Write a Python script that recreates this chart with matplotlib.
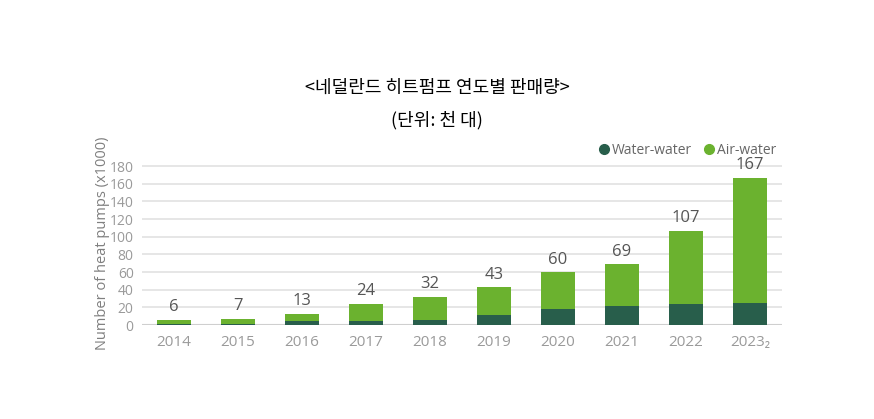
import matplotlib.pyplot as plt
from matplotlib.lines import Line2D

plt.rcParams['font.family'] = ['Open Sans', 'DejaVu Sans']

# Data
years = ["2014", "2015", "2016", "2017", "2018", "2019", "2020", "2021", "2022", "2023₂"]
water_water = [1, 1, 4, 4, 6, 11, 18, 21, 24, 25]
air_water = [5, 6, 9, 20, 26, 32, 42, 48, 83, 142]
totals = [6, 7, 13, 24, 32, 43, 60, 69, 107, 167]
y_ticks = [0, 20, 40, 60, 80, 100, 120, 140, 160, 180]

dark = "#285e4b"
light = "#6bb22f"
grey = "#9a9a9a"

fig = plt.figure(figsize=(8.74, 4.19), dpi=100)
ax = fig.add_axes([0.1625, 0.2243, 0.7322, 0.39])

x = list(range(len(years)))
ax.bar(x, water_water, width=0.52, color=dark, zorder=3)
ax.bar(x, air_water, width=0.52, bottom=water_water, color=light, zorder=3)

for xi, t in zip(x, totals):
    ax.text(xi, t + 5, str(t), ha="center", va="bottom", fontsize=12, color="#555555")

ax.set_xlim(-0.5, len(years) - 0.5)
ax.set_ylim(0, 185)
ax.set_yticks(y_ticks)
ax.set_xticks(x)
ax.set_xticklabels(years)
ax.tick_params(axis="x", length=0, pad=7, labelsize=11, colors=grey)
ax.tick_params(axis="y", length=0, pad=6, labelsize=10, colors=grey)
ax.grid(axis="y", color="#e2e2e2", linewidth=1.2, zorder=0)
ax.axhline(0, color="#cfcfcf", linewidth=1.5, zorder=2)
for s in ax.spines.values():
    s.set_visible(False)

ax.set_ylabel("Number of heat pumps (x1000)", fontsize=10.5, color="#7f7f7f", labelpad=0)

handles = [
    Line2D([], [], marker="o", linestyle="none", markersize=7, color=dark, label="Water-water"),
    Line2D([], [], marker="o", linestyle="none", markersize=7, color=light, label="Air-water"),
]
leg = ax.legend(handles=handles, loc="lower right", bbox_to_anchor=(1.0, 0.99), ncol=2,
                frameon=False, fontsize=10, handlelength=0.6, handletextpad=0.3,
                columnspacing=0.9, borderaxespad=0)
for t in leg.get_texts():
    t.set_color("#666666")

fig.text(0.5, 0.79, "<네덜란드 히트펌프 연도별 판매량>", ha="center", va="center",
         fontsize=13, color="black", family=["Noto Sans CJK KR", "DejaVu Sans"])
fig.text(0.5, 0.713, "(단위: 천 대)", ha="center", va="center",
         fontsize=13, color="black", family=["Noto Sans CJK KR", "DejaVu Sans"])

fig.savefig("out.png", dpi=100)
